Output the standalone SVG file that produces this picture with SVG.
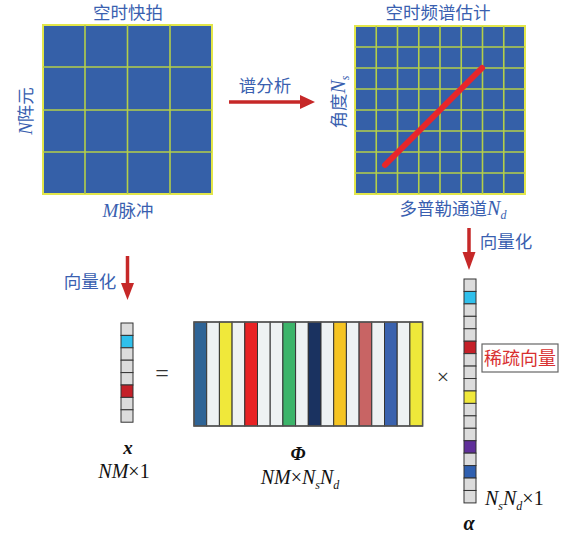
<svg xmlns="http://www.w3.org/2000/svg" width="563" height="533" viewBox="0 0 563 533">
<style>
.cn{font-family:"Noto Sans CJK SC","Noto Sans",sans-serif;font-size:17.5px;fill:#3a5fb0}
.grid{fill:#3560a8;stroke:#e2e64a;stroke-width:2}
.gl{stroke:#b4cf48;stroke-width:1.6}
.m{font-family:"Liberation Serif",serif;font-style:italic;font-size:20px;fill:#111}
.sub{font-size:12px}
.cell{stroke:#333;stroke-width:1}
.col{stroke:#333;stroke-width:1}
</style>

<g id="snapshot">
<text class="cn" x="128" y="19" text-anchor="middle">空时快拍</text>
<rect class="grid" x="43" y="25" width="169" height="169"/>
<g class="gl">
<line x1="85" y1="25" x2="85" y2="194"/><line x1="127.5" y1="25" x2="127.5" y2="194"/><line x1="170" y1="25" x2="170" y2="194"/>
<line x1="43" y1="67" x2="212" y2="67"/><line x1="43" y1="110" x2="212" y2="110"/><line x1="43" y1="152" x2="212" y2="152"/>
</g>
<text class="cn" transform="translate(32,111) rotate(-90)" text-anchor="middle"><tspan font-family="Liberation Serif" font-style="italic" font-size="19">N</tspan>阵元</text>
<text class="cn" x="128" y="217" text-anchor="middle"><tspan font-family="Liberation Serif" font-style="italic" font-size="19">M</tspan>脉冲</text>
</g>

<g id="spectrum">
<text class="cn" x="438" y="19" text-anchor="middle" font-size="18">空时频谱估计</text>
<rect class="grid" x="355" y="26" width="170" height="168"/>
<g class="gl">
<line x1="376.25" y1="26" x2="376.25" y2="194"/><line x1="397.5" y1="26" x2="397.5" y2="194"/><line x1="418.75" y1="26" x2="418.75" y2="194"/><line x1="440" y1="26" x2="440" y2="194"/><line x1="461.25" y1="26" x2="461.25" y2="194"/><line x1="482.5" y1="26" x2="482.5" y2="194"/><line x1="503.75" y1="26" x2="503.75" y2="194"/>
<line x1="355" y1="47" x2="525" y2="47"/><line x1="355" y1="68" x2="525" y2="68"/><line x1="355" y1="89" x2="525" y2="89"/><line x1="355" y1="110" x2="525" y2="110"/><line x1="355" y1="131" x2="525" y2="131"/><line x1="355" y1="152" x2="525" y2="152"/><line x1="355" y1="173" x2="525" y2="173"/>
</g>
<line x1="385" y1="165" x2="482" y2="68" stroke="#e8262a" stroke-width="6" stroke-linecap="round"/>
<text class="cn" transform="translate(345,102) rotate(-90)" text-anchor="middle" font-size="18">角度<tspan font-family="Liberation Serif" font-style="italic" font-size="20">N</tspan><tspan font-family="Liberation Serif" font-style="italic" font-size="12" dy="4">s</tspan></text>
<text class="cn" x="453" y="215" text-anchor="middle" font-size="18">多普勒通道<tspan font-family="Liberation Serif" font-style="italic" font-size="20">N</tspan><tspan font-family="Liberation Serif" font-style="italic" font-size="12" dy="4">d</tspan></text>
</g>

<g id="connectors">
<line x1="229" y1="102" x2="302" y2="102" stroke="#c62828" stroke-width="3.5"/>
<path d="M300,95 L315,102 L300,109 Z" fill="#c62828"/>
<text class="cn" x="265" y="92" text-anchor="middle">谱分析</text>
<line x1="127.5" y1="256" x2="127.5" y2="285" stroke="#c62828" stroke-width="3.5"/>
<path d="M121,283 L127.5,300 L134,283 Z" fill="#c62828"/>
<text class="cn" x="90" y="288" text-anchor="middle">向量化</text>
<line x1="469" y1="228" x2="469" y2="254" stroke="#c62828" stroke-width="3.5"/>
<path d="M462.5,252 L469,270 L475.5,252 Z" fill="#c62828"/>
<text class="cn" x="506" y="248" text-anchor="middle">向量化</text>
</g>

<g id="x-vector">
<g class="cell">
<rect x="121" y="323" width="12" height="12.4" fill="#dcdcdc"/>
<rect x="121" y="335.4" width="12" height="12.4" fill="#30c0ec"/>
<rect x="121" y="347.8" width="12" height="12.4" fill="#dcdcdc"/>
<rect x="121" y="360.2" width="12" height="12.4" fill="#dcdcdc"/>
<rect x="121" y="372.6" width="12" height="12.4" fill="#dcdcdc"/>
<rect x="121" y="385" width="12" height="12.4" fill="#c42028"/>
<rect x="121" y="397.4" width="12" height="12.4" fill="#dcdcdc"/>
<rect x="121" y="409.8" width="12" height="12.4" fill="#dcdcdc"/>
</g>
<text x="128" y="454" text-anchor="middle" font-family="Liberation Serif" font-weight="bold" font-style="italic" font-size="19" fill="#111">x</text>
<text class="m" x="124" y="478" text-anchor="middle">NM<tspan font-style="normal">×1</tspan></text>
</g>

<text x="162" y="381" text-anchor="middle" font-family="Liberation Serif" font-size="24" fill="#333">=</text>

<g id="phi-matrix">
<g class="col">
<rect x="194" y="322" width="12.7" height="104" fill="#2f6496"/>
<rect x="206.7" y="322" width="12.7" height="104" fill="#eef2f3"/>
<rect x="219.4" y="322" width="12.7" height="104" fill="#f0e83a"/>
<rect x="232.1" y="322" width="12.7" height="104" fill="#eef2f3"/>
<rect x="244.8" y="322" width="12.7" height="104" fill="#e82224"/>
<rect x="257.5" y="322" width="12.7" height="104" fill="#eef2f3"/>
<rect x="270.2" y="322" width="12.7" height="104" fill="#eef2f3"/>
<rect x="282.9" y="322" width="12.7" height="104" fill="#3cb46a"/>
<rect x="295.6" y="322" width="12.7" height="104" fill="#eef2f3"/>
<rect x="308.3" y="322" width="12.7" height="104" fill="#1a3260"/>
<rect x="321" y="322" width="12.7" height="104" fill="#eef2f3"/>
<rect x="333.7" y="322" width="12.7" height="104" fill="#f5c422"/>
<rect x="346.4" y="322" width="12.7" height="104" fill="#eef2f3"/>
<rect x="359.1" y="322" width="12.7" height="104" fill="#c86464"/>
<rect x="371.8" y="322" width="12.7" height="104" fill="#eef2f3"/>
<rect x="384.5" y="322" width="12.7" height="104" fill="#3a62ae"/>
<rect x="397.2" y="322" width="12.7" height="104" fill="#eef2f3"/>
<rect x="409.9" y="322" width="12.7" height="104" fill="#eee83a"/>
</g>
<rect x="194" y="322" width="228.6" height="104" fill="none" stroke="#555" stroke-width="1.5"/>
<text x="298" y="460" text-anchor="middle" font-family="Liberation Serif" font-weight="bold" font-style="italic" font-size="19" fill="#111">Φ</text>
<text class="m" x="300" y="484" text-anchor="middle">NM<tspan font-style="normal">×</tspan>N<tspan class="sub" dy="5">s</tspan><tspan dy="-5">N</tspan><tspan class="sub" dy="5">d</tspan></text>
</g>

<text x="443" y="384" text-anchor="middle" font-family="Liberation Serif" font-size="22" fill="#333">×</text>

<g id="alpha-vector">
<g class="cell">
<rect x="464" y="279" width="12" height="12.44" fill="#dcdcdc"/>
<rect x="464" y="291.44" width="12" height="12.44" fill="#30c0ec"/>
<rect x="464" y="303.88" width="12" height="12.44" fill="#dcdcdc"/>
<rect x="464" y="316.32" width="12" height="12.44" fill="#dcdcdc"/>
<rect x="464" y="328.76" width="12" height="12.44" fill="#dcdcdc"/>
<rect x="464" y="341.2" width="12" height="12.44" fill="#c42028"/>
<rect x="464" y="353.64" width="12" height="12.44" fill="#dcdcdc"/>
<rect x="464" y="366.08" width="12" height="12.44" fill="#dcdcdc"/>
<rect x="464" y="378.52" width="12" height="12.44" fill="#dcdcdc"/>
<rect x="464" y="390.96" width="12" height="12.44" fill="#f0e83a"/>
<rect x="464" y="403.4" width="12" height="12.44" fill="#dcdcdc"/>
<rect x="464" y="415.84" width="12" height="12.44" fill="#dcdcdc"/>
<rect x="464" y="428.28" width="12" height="12.44" fill="#dcdcdc"/>
<rect x="464" y="440.72" width="12" height="12.44" fill="#60309a"/>
<rect x="464" y="453.16" width="12" height="12.44" fill="#dcdcdc"/>
<rect x="464" y="465.6" width="12" height="12.44" fill="#3060b0"/>
<rect x="464" y="478.04" width="12" height="12.44" fill="#dcdcdc"/>
<rect x="464" y="490.48" width="12" height="12.44" fill="#dcdcdc"/>
</g>
<text class="m" x="485" y="505">N<tspan class="sub" dy="5">s</tspan><tspan dy="-5">N</tspan><tspan class="sub" dy="5">d</tspan><tspan dy="-5" font-style="normal">×1</tspan></text>
<text x="469" y="530" text-anchor="middle" font-family="Liberation Serif" font-weight="bold" font-style="italic" font-size="20" fill="#111">α</text>
</g>

<g id="sparse-label">
<rect x="482" y="344" width="76" height="28" fill="#fff" stroke="#666" stroke-width="1.2"/>
<text x="520" y="365" text-anchor="middle" font-family="Noto Sans CJK SC,sans-serif" font-size="18" fill="#d83030">稀疏向量</text>
</g>
</svg>
